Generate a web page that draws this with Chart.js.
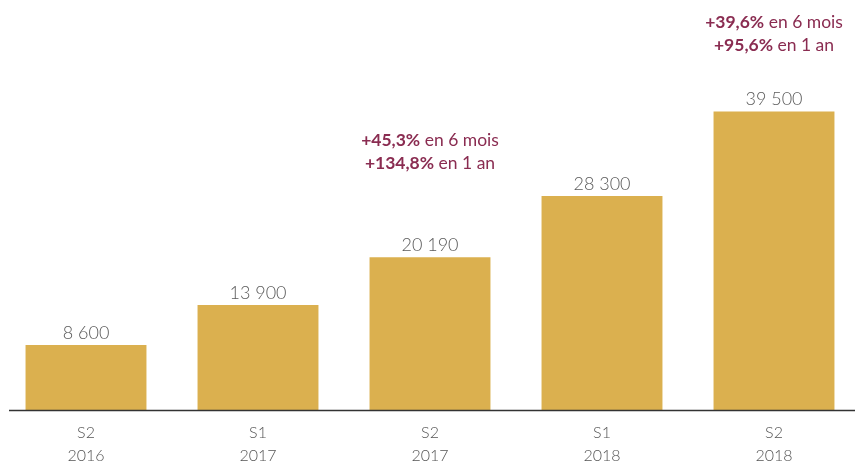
<!DOCTYPE html>
<html>
<head>
<meta charset="utf-8">
<script src="https://cdn.jsdelivr.net/npm/chart.js@4"></script>
<style>
  html, body { margin: 0; padding: 0; background: #fff; overflow: hidden; }
  #wrap { width: 860px; height: 463px; }
</style>
</head>
<body>
<div id="wrap"><canvas id="c"></canvas></div>
<script>
// semestres et volumes
const semestres = [['S2', '2016'], ['S1', '2017'], ['S2', '2017'], ['S1', '2018'], ['S2', '2018']];
const volumes = [8600, 13900, 20190, 28300, 39500];
const valueLabels = ['8 600', '13 900', '20 190', '28 300', '39 500'];

// évolutions affichées au-dessus de certaines barres
const evolIndex = [2, 4];
const evol6Mois = ['+45,3%', '+39,6%'];
const evol1An = ['+134,8%', '+95,6%'];

const FONT = 'Lato, "Open Sans", sans-serif';
const BORDEAUX = '#8a2c51';

// valeurs au-dessus des barres + évolutions
const labelsPlugin = {
  id: 'labels',
  afterDatasetsDraw(chart, args, opts) {
    const ctx = chart.ctx;
    const meta = chart.getDatasetMeta(0);
    ctx.save();
    ctx.textAlign = 'center';
    ctx.textBaseline = 'alphabetic';
    ctx.fillStyle = '#5a5a5a';
    ctx.font = '300 18px ' + FONT;
    meta.data.forEach((bar, i) => {
      ctx.fillText(valueLabels[i], bar.x, bar.y - 6);
    });

    evolIndex.forEach((idx, k) => {
      const bar = meta.data[idx];
      const lines = [[evol6Mois[k], ' en 6 mois'], [evol1An[k], ' en 1 an']];
      const y0 = bar.y - opts.offsets[k];
      lines.forEach((parts, j) => {
        ctx.font = 'bold 17.5px ' + FONT;
        const w1 = ctx.measureText(parts[0]).width;
        ctx.font = '17.5px ' + FONT;
        const w2 = ctx.measureText(parts[1]).width;
        const x = bar.x - (w1 + w2) / 2;
        const y = y0 + j * 23;
        ctx.textAlign = 'left';
        ctx.fillStyle = BORDEAUX;
        ctx.font = 'bold 17.5px ' + FONT;
        ctx.fillText(parts[0], x, y);
        ctx.font = '17.5px ' + FONT;
        ctx.fillText(parts[1], x + w1, y);
      });
    });
    ctx.restore();
  }
};

// ligne de base de l'axe
const baselinePlugin = {
  id: 'baseline',
  afterDatasetsDraw(chart) {
    const ctx = chart.ctx;
    const y = chart.scales.y.getPixelForValue(0);
    ctx.save();
    ctx.strokeStyle = '#333';
    ctx.lineWidth = 1.5;
    ctx.beginPath();
    ctx.moveTo(9, y + 0.5);
    ctx.lineTo(855, y + 0.5);
    ctx.stroke();
    ctx.restore();
  }
};

new Chart(document.getElementById('c'), {
  type: 'bar',
  data: {
    labels: semestres,
    datasets: [{
      data: volumes,
      backgroundColor: '#dbb04f',
      barPercentage: 0.703,
      categoryPercentage: 1
    }]
  },
  options: {
    responsive: true,
    maintainAspectRatio: false,
    animation: false,
    layout: { padding: { top: 32, left: 0, right: 0, bottom: 0 } },
    plugins: {
      legend: { display: false },
      tooltip: { enabled: false },
      labels: { offsets: [111, 83] }
    },
    scales: {
      x: {
        grid: { display: false, drawTicks: false },
        border: { display: false },
        ticks: {
          color: '#555',
          font: { family: FONT, size: 16, weight: 300, lineHeight: 1.4 },
          padding: 12,
          maxRotation: 0
        },
        afterFit(scale) { scale.height = 53; }
      },
      y: {
        display: false,
        min: 0,
        max: 50000
      }
    }
  },
  plugins: [labelsPlugin, baselinePlugin]
});
</script>
</body>
</html>
